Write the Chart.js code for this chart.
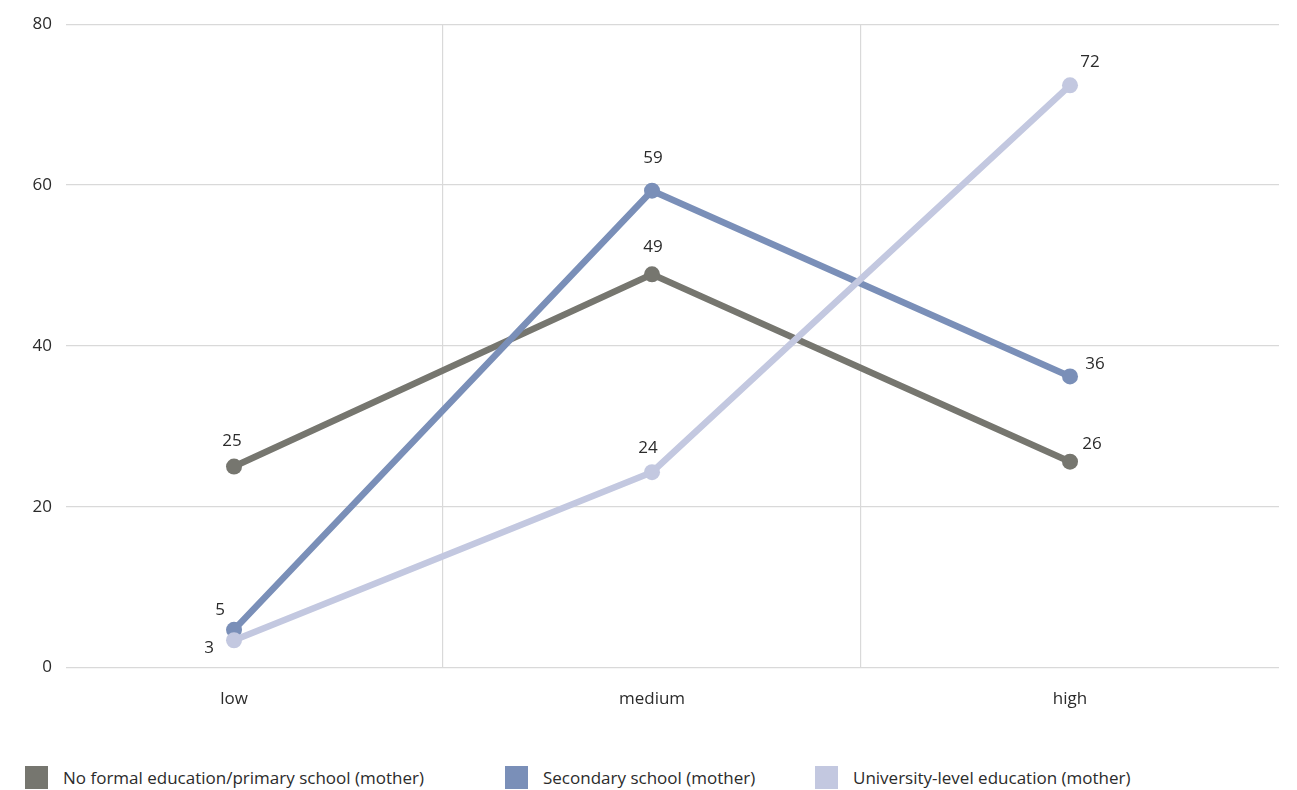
<!DOCTYPE html>
<html>
<head>
<meta charset="utf-8">
<script src="https://cdn.jsdelivr.net/npm/chart.js@4.4.0/dist/chart.umd.min.js"></script>
<style>
  body { margin: 0; background: #fff; font-family: 'Open Sans', sans-serif; }
  .wrap { position: relative; width: 1297px; height: 790px; }
  .chart-box { position: absolute; left: 0; top: 0; width: 1297px; height: 730px; }
  .legend { position: absolute; left: 0; top: 766px; width: 1297px; height: 24px; }
  .legend__item { position: absolute; top: 0; display: flex; align-items: center; font-size: 17px; color: #2b2b2b; }
  .legend__box { width: 23px; height: 23px; margin-right: 15px; }
</style>
</head>
<body>
<div class="wrap">
  <div class="chart-box"><canvas id="chart"></canvas></div>
  <div class="legend" id="legendContainer"></div>
</div>
<script>
const categories = ['low', 'medium', 'high'];
const seriesNames = [
  'No formal education/primary school (mother)',
  'Secondary school (mother)',
  'University-level education (mother)'
];
const noFormal = [25, 48.9, 25.6];
const secondary = [4.7, 59.3, 36.2];
const university = [3.4, 24.3, 72.4];
const yTicks = [0, 20, 40, 60, 80];

const colors = ['#76766f', '#7a8fb8', '#c3c8e0'];
// label offsets relative to each point (dx, dy)
const labelOffsets = [
  [[-2, -25], [1, -27], [22, -18]],
  [[-14, -20], [1, -33], [25, -12]],
  [[-25, 8], [-4, -24], [20, -23]]
];
const legendLeft = [25, 505, 815];

function toPoints(values) {
  return values.map((v, i) => ({ x: i, y: v }));
}

const valueLabels = {
  id: 'valueLabels',
  afterDatasetsDraw(chart) {
    const ctx = chart.ctx;
    ctx.save();
    ctx.font = '17px "Open Sans", sans-serif';
    ctx.fillStyle = '#2b2b2b';
    ctx.textAlign = 'center';
    ctx.textBaseline = 'middle';
    chart.data.datasets.forEach((ds, di) => {
      const meta = chart.getDatasetMeta(di);
      meta.data.forEach((pt, i) => {
        const off = labelOffsets[di][i];
        ctx.fillText(String(Math.round(ds.data[i].y)), pt.x + off[0], pt.y + off[1]);
      });
    });
    ctx.restore();
  }
};

const datasetValues = [noFormal, secondary, university];

const chart = new Chart(document.getElementById('chart').getContext('2d'), {
  type: 'line',
  data: {
    datasets: datasetValues.map((vals, i) => ({
      label: seriesNames[i],
      data: toPoints(vals),
      borderColor: colors[i],
      backgroundColor: colors[i],
      borderWidth: 6.5,
      pointRadius: 8,
      pointHoverRadius: 8,
      pointBorderWidth: 0,
      fill: false,
      tension: 0,
      order: 3 - i
    }))
  },
  options: {
    responsive: true,
    maintainAspectRatio: false,
    animation: false,
    layout: { padding: { top: 17, right: 18, bottom: 0, left: 0 } },
    plugins: {
      legend: { display: false },
      tooltip: { enabled: false }
    },
    scales: {
      x: {
        type: 'linear',
        min: -0.402,
        max: 2.5,
        afterBuildTicks: (scale) => {
          scale.ticks = [0, 0.5, 1, 1.5, 2].map(v => ({ value: v }));
        },
        grid: {
          color: (c) => (c.tick && c.tick.value % 1 !== 0 ? '#d9d9d9' : 'rgba(0,0,0,0)'),
          lineWidth: 1.2,
          drawTicks: false
        },
        border: { display: false },
        ticks: {
          autoSkip: false,
          maxRotation: 0,
          padding: 21,
          color: '#2b2b2b',
          font: { family: 'Open Sans', size: 17 },
          callback: (value) => (value % 1 === 0 ? categories[value] : '')
        }
      },
      y: {
        min: 0,
        max: 80,
        afterBuildTicks: (scale) => {
          scale.ticks = yTicks.map(v => ({ value: v }));
        },
        afterFit: (scale) => { scale.width = 66; },
        grid: { color: '#d9d9d9', lineWidth: 1.2, drawTicks: false },
        border: { display: false },
        ticks: {
          padding: 14,
          color: '#2b2b2b',
          font: { family: 'Open Sans', size: 17 }
        }
      }
    }
  },
  plugins: [valueLabels]
});

document.getElementById('legendContainer').innerHTML = seriesNames.map((name, i) => `
  <div class="legend__item" style="left:${legendLeft[i]}px">
    <div class="legend__box" style="background:${colors[i]}"></div>
    <span>${name}</span>
  </div>`).join('');
</script>
</body>
</html>
